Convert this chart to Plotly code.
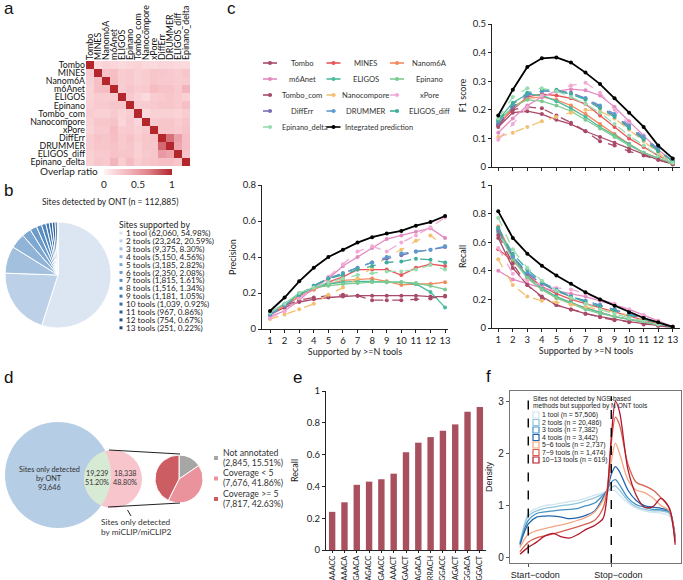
import numpy as np
import plotly.graph_objects as go

W, H = 683, 580
def PX(x): return x / W
def PY(y): return 1 - y / H

FONT = "Lato"
FONT_F = "Liberation Sans"

# ---------------- data ----------------
TOOLS13 = ["Tombo", "MINES", "Nanom6A", "m6Anet", "ELIGOS", "Epinano", "Tombo_com",
           "Nanocompore", "xPore", "DiffErr", "DRUMMER", "ELIGOS_diff", "Epinano_delta"]
OVERLAP = [
    [1.00, .15, .18, .17, .14, .16, .18, .15, .14, .16, .16, .15, .14],
    [.22, 1.00, .28, .30, .22, .24, .20, .22, .26, .25, .24, .22, .26],
    [.20, .30, 1.00, .32, .22, .24, .20, .22, .26, .24, .24, .22, .24],
    [.18, .30, .32, 1.00, .22, .26, .22, .24, .32, .28, .28, .24, .36],
    [.18, .22, .22, .22, 1.00, .24, .18, .14, .22, .24, .26, .24, .20],
    [.20, .24, .24, .26, .26, 1.00, .22, .22, .24, .26, .26, .24, .30],
    [.22, .20, .20, .24, .18, .22, 1.00, .14, .20, .20, .20, .18, .22],
    [.20, .26, .26, .28, .16, .24, .16, 1.00, .24, .26, .26, .22, .26],
    [.18, .24, .24, .32, .22, .24, .20, .24, 1.00, .26, .26, .24, .28],
    [.22, .28, .26, .30, .24, .28, .22, .26, .28, 1.00, .72, .48, .30],
    [.22, .26, .26, .28, .24, .26, .20, .26, .26, .75, 1.00, .44, .30],
    [.20, .24, .24, .28, .26, .26, .20, .24, .26, .52, .46, 1.00, .28],
    [.20, .26, .24, .36, .22, .32, .22, .26, .28, .30, .30, .26, 1.00],
]

SUPPORT_LABELS = ["1 tool", "2 tools", "3 tools", "4 tools", "5 tools", "6 tools", "7 tools",
                  "8 tools", "9 tools", "10 tools", "11 tools", "12 tools", "13 tools"]
SUPPORT_COUNTS = [62060, 23242, 9375, 5150, 3185, 2350, 1815, 1516, 1181, 1039, 967, 754, 251]
SUPPORT_PCT = [54.98, 20.59, 8.30, 4.56, 2.82, 2.08, 1.61, 1.34, 1.05, 0.92, 0.86, 0.67, 0.22]

C_TOOLS = TOOLS13 + ["Integrated prediction"]
N_TOOLS = list(range(1, 14))
F1 = [
    [0.14, 0.19, 0.195, 0.185, 0.165, 0.15, 0.125, 0.105, 0.085, 0.065, 0.045, 0.025, 0.01],   # Tombo
    [0.15, 0.20, 0.245, 0.255, 0.25, 0.24, 0.22, 0.18, 0.14, 0.10, 0.07, 0.04, 0.015],         # MINES
    [0.145, 0.21, 0.24, 0.245, 0.235, 0.215, 0.185, 0.15, 0.115, 0.08, 0.05, 0.03, 0.01],      # Nanom6A
    [0.12, 0.17, 0.215, 0.245, 0.265, 0.272, 0.268, 0.25, 0.21, 0.16, 0.11, 0.06, 0.02],       # m6Anet
    [0.165, 0.225, 0.255, 0.25, 0.23, 0.205, 0.175, 0.14, 0.11, 0.08, 0.05, 0.03, 0.01],       # ELIGOS
    [0.16, 0.21, 0.235, 0.23, 0.215, 0.195, 0.165, 0.135, 0.105, 0.075, 0.05, 0.03, 0.01],     # Epinano
    [0.145, 0.20, 0.21, 0.205, 0.18, 0.155, 0.125, 0.09, 0.075, 0.055, 0.04, 0.025, 0.01],     # Tombo_com
    [0.105, 0.12, 0.14, 0.16, 0.175, 0.19, 0.20, 0.195, 0.17, 0.13, 0.09, 0.05, 0.015],        # Nanocompore
    [0.095, 0.15, 0.21, 0.25, 0.265, 0.285, 0.295, 0.26, 0.20, 0.15, 0.10, 0.06, 0.02],        # xPore
    [0.15, 0.21, 0.25, 0.265, 0.265, 0.26, 0.24, 0.21, 0.18, 0.14, 0.10, 0.06, 0.02],          # DiffErr
    [0.16, 0.22, 0.255, 0.265, 0.265, 0.255, 0.24, 0.215, 0.185, 0.145, 0.105, 0.065, 0.02],   # DRUMMER
    [0.16, 0.22, 0.26, 0.27, 0.27, 0.255, 0.235, 0.205, 0.175, 0.135, 0.095, 0.055, 0.02],     # ELIGOS_diff
    [0.17, 0.245, 0.275, 0.275, 0.265, 0.245, 0.22, 0.19, 0.15, 0.11, 0.075, 0.04, 0.015],     # Epinano_delta
    [0.18, 0.27, 0.35, 0.38, 0.383, 0.365, 0.33, 0.29, 0.24, 0.19, 0.14, 0.075, 0.03],         # Integrated
]
PRECISION = [
    [0.08, 0.12, 0.15, 0.165, 0.175, 0.18, 0.185, 0.185, 0.185, 0.185, 0.185, 0.18, 0.18],
    [0.08, 0.13, 0.18, 0.22, 0.26, 0.29, 0.33, 0.33, 0.33, 0.30, 0.34, 0.36, 0.35],
    [0.08, 0.13, 0.18, 0.22, 0.25, 0.27, 0.275, 0.28, 0.265, 0.245, 0.25, 0.25, 0.26],
    [0.07, 0.10, 0.16, 0.23, 0.28, 0.35, 0.40, 0.45, 0.50, 0.52, 0.54, 0.56, 0.505],
    [0.09, 0.14, 0.19, 0.23, 0.25, 0.26, 0.265, 0.265, 0.26, 0.26, 0.25, 0.205, 0.12],
    [0.09, 0.14, 0.20, 0.23, 0.24, 0.25, 0.255, 0.26, 0.26, 0.26, 0.255, 0.24, 0.22],
    [0.09, 0.13, 0.16, 0.175, 0.185, 0.19, 0.185, 0.16, 0.16, 0.16, 0.165, 0.17, 0.185],
    [0.055, 0.08, 0.11, 0.14, 0.19, 0.23, 0.28, 0.34, 0.40, 0.44, 0.49, 0.52, 0.46],
    [0.06, 0.10, 0.17, 0.23, 0.29, 0.36, 0.43, 0.46, 0.43, 0.48, 0.52, 0.565, 0.62],
    [0.08, 0.13, 0.19, 0.24, 0.28, 0.31, 0.34, 0.37, 0.39, 0.41, 0.43, 0.44, 0.455],
    [0.08, 0.13, 0.19, 0.24, 0.28, 0.31, 0.34, 0.37, 0.40, 0.42, 0.43, 0.44, 0.46],
    [0.09, 0.14, 0.19, 0.24, 0.28, 0.30, 0.33, 0.35, 0.37, 0.375, 0.39, 0.385, 0.37],
    [0.09, 0.14, 0.20, 0.23, 0.26, 0.28, 0.30, 0.31, 0.32, 0.32, 0.33, 0.355, 0.33],
    [0.10, 0.175, 0.265, 0.34, 0.40, 0.44, 0.48, 0.51, 0.53, 0.545, 0.574, 0.594, 0.628],
]
RECALL = [
    [0.63, 0.42, 0.30, 0.22, 0.16, 0.13, 0.10, 0.08, 0.06, 0.045, 0.03, 0.015, 0.005],
    [0.55, 0.47, 0.37, 0.29, 0.24, 0.20, 0.17, 0.14, 0.11, 0.08, 0.055, 0.03, 0.005],
    [0.71, 0.50, 0.35, 0.27, 0.21, 0.17, 0.14, 0.11, 0.08, 0.06, 0.04, 0.02, 0.005],
    [0.40, 0.34, 0.31, 0.28, 0.26, 0.24, 0.22, 0.19, 0.16, 0.13, 0.09, 0.05, 0.01],
    [0.69, 0.50, 0.36, 0.28, 0.22, 0.18, 0.14, 0.11, 0.08, 0.06, 0.04, 0.02, 0.005],
    [0.67, 0.48, 0.35, 0.27, 0.21, 0.17, 0.13, 0.10, 0.08, 0.06, 0.04, 0.02, 0.005],
    [0.65, 0.45, 0.30, 0.21, 0.16, 0.13, 0.10, 0.075, 0.055, 0.04, 0.025, 0.015, 0.005],
    [0.48, 0.30, 0.22, 0.19, 0.18, 0.165, 0.15, 0.13, 0.11, 0.09, 0.06, 0.03, 0.005],
    [0.56, 0.38, 0.33, 0.30, 0.28, 0.27, 0.24, 0.20, 0.17, 0.13, 0.09, 0.05, 0.01],
    [0.68, 0.50, 0.38, 0.31, 0.26, 0.22, 0.19, 0.16, 0.13, 0.10, 0.07, 0.035, 0.005],
    [0.70, 0.50, 0.39, 0.32, 0.27, 0.22, 0.19, 0.16, 0.13, 0.10, 0.07, 0.035, 0.005],
    [0.70, 0.52, 0.41, 0.32, 0.26, 0.22, 0.18, 0.15, 0.12, 0.09, 0.06, 0.03, 0.005],
    [0.77, 0.55, 0.42, 0.33, 0.26, 0.21, 0.17, 0.13, 0.10, 0.07, 0.05, 0.025, 0.005],
    [0.816, 0.63, 0.52, 0.435, 0.367, 0.31, 0.25, 0.20, 0.155, 0.11, 0.07, 0.04, 0.008],
]

VENN_ONT_ONLY = 93646
VENN_SHARED = 19239
VENN_CLIP_ONLY = 18338
VENN_SHARED_PCT = 51.20
VENN_CLIP_PCT = 48.80
COVERAGE_LABELS = ["Not annotated", "Coverage < 5", "Coverage >= 5"]
COVERAGE_COUNTS = [2845, 7676, 7817]
COVERAGE_PCT = [15.51, 41.86, 42.63]

MOTIFS = ["AAACC", "AAACA", "GAACA", "AGACC", "GAACC", "AAACT", "GAACT",
          "AGACA", "RRACH", "GGACC", "AGACT", "GGACA", "GGACT"]
MOTIF_RECALL = [0.24, 0.30, 0.41, 0.43, 0.445, 0.48, 0.615, 0.675, 0.71, 0.75, 0.79, 0.87, 0.90]

META_X = [0.9, 1.0, 1.1, 1.2, 1.3, 1.4, 1.5, 1.6, 1.7, 1.8, 1.9, 1.95, 2.0, 2.05, 2.1,
          2.2, 2.3, 2.4, 2.5, 2.6, 2.7, 2.77]
META_GROUPS = ["1 tool", "2 tools", "3 tools", "4 tools", "5\u22126 tools", "7\u22129 tools", "10\u221213 tools"]
META_N = [57506, 20486, 7382, 3442, 2737, 1474, 619]
META_DENSITY = [
    [0.30, 0.85, 0.95, 1.00, 1.02, 1.05, 1.08, 1.10, 1.15, 1.20, 1.25, 1.28, 1.30, 1.28, 1.20, 1.05, 0.95, 0.90, 0.87, 0.86, 0.80, 0.40],
    [0.28, 0.80, 0.90, 0.95, 0.97, 1.00, 1.02, 1.05, 1.10, 1.15, 1.22, 1.26, 1.35, 1.38, 1.30, 1.10, 0.98, 0.93, 0.90, 0.90, 0.85, 0.40],
    [0.27, 0.72, 0.85, 0.88, 0.90, 0.92, 0.93, 0.95, 1.00, 1.05, 1.20, 1.30, 1.45, 1.50, 1.40, 1.15, 1.02, 0.97, 0.93, 0.92, 0.88, 0.40],
    [0.25, 0.65, 0.78, 0.80, 0.80, 0.78, 0.75, 0.77, 0.82, 0.90, 1.15, 1.30, 1.60, 1.75, 1.65, 1.30, 1.10, 1.00, 0.97, 0.95, 0.90, 0.35],
    [0.20, 0.45, 0.52, 0.56, 0.60, 0.63, 0.67, 0.72, 0.78, 0.88, 1.10, 1.30, 1.85, 2.20, 2.00, 1.50, 1.30, 1.25, 1.15, 1.00, 0.90, 0.35],
    [0.12, 0.30, 0.38, 0.42, 0.46, 0.50, 0.55, 0.60, 0.65, 0.72, 0.95, 1.30, 2.20, 2.70, 2.55, 1.80, 1.45, 1.38, 1.30, 1.15, 0.95, 0.30],
    [0.07, 0.20, 0.30, 0.42, 0.47, 0.40, 0.38, 0.45, 0.55, 0.62, 0.75, 1.20, 2.30, 3.00, 2.80, 1.70, 1.20, 0.97, 0.98, 1.14, 0.95, 0.25],
]

# ---------------- styles ----------------
PIE_BLUES = ['#dbe6f2', '#bcd1e7', '#a3c1de', '#8fb4d8', '#7ea8d2', '#6d9ccb', '#5b8fc4',
             '#4e84bd', '#4278b4', '#376ca9', '#2d5f9c', '#24528d', '#1c467e']
C_COLORS = ['#a84a68', '#e8545a', '#f28a5e', '#e389c0', '#4dbb9e', '#7ccb92', '#a84a68',
            '#f2c073', '#f2aad4', '#7b6fb5', '#5a9bd0', '#3fae9a', '#98dcb0', '#000000']
C_DASH = ['solid', 'solid', 'solid', 'solid', 'solid', 'solid', 'dash',
          'dash', 'dash', 'dash', 'dash', 'dash', 'dash', 'solid']
COV_COLORS = ['#a6a6a6', '#ea939c', '#cc5d62']
BAR_COLOR = '#a8505e'
META_COLORS = ['#d1e5f0', '#92c5de', '#4393c3', '#2166ac', '#f4a582', '#d6604d', '#b2182b']

fig = go.Figure()

# ---------------- a: heatmap ----------------
fig.add_trace(go.Heatmap(
    z=OVERLAP, x=TOOLS13, y=TOOLS13, xaxis='x', yaxis='y', zmin=0, zmax=1,
    colorscale=[[0, '#fff1f2'], [0.3, '#f6bfc5'], [0.65, '#e0838b'], [1, '#b2262c']],
    hoverinfo='skip',
    colorbar=dict(orientation='h', x=PX(138), xanchor='center', y=PY(168.5), yanchor='top',
                  len=68, lenmode='pixels', thickness=6, outlinewidth=0,
                  tickvals=[0, 0.5, 1], ticktext=['0', '0.5', '1'], ticks='',
                  tickfont=dict(size=10, family=FONT, color='#222'), ypad=0, xpad=0)))

# ---------------- b: pie ----------------
fig.add_trace(go.Pie(
    values=SUPPORT_COUNTS, labels=SUPPORT_LABELS, sort=False, direction='clockwise', rotation=0,
    domain=dict(x=[PX(5), PX(111)], y=[PY(328), PY(222)]),
    marker=dict(colors=PIE_BLUES, line=dict(color='white', width=1)),
    textinfo='none', hoverinfo='skip', showlegend=False))

# ---------------- c: line charts ----------------
for metric, xa, ya in [(F1, 'x2', 'y2'), (PRECISION, 'x3', 'y3'), (RECALL, 'x4', 'y4')]:
    for i, name in enumerate(C_TOOLS):
        fig.add_trace(go.Scatter(
            x=N_TOOLS, y=metric[i], mode='lines+markers', xaxis=xa, yaxis=ya, name=name,
            line=dict(color=C_COLORS[i], width=1.8 if i == 13 else 1.3, dash=C_DASH[i]),
            marker=dict(size=4, color=C_COLORS[i]), showlegend=False, hoverinfo='skip'))

# ---------------- d: coverage pie ----------------
fig.add_trace(go.Pie(
    values=COVERAGE_COUNTS, labels=COVERAGE_LABELS, sort=False, direction='clockwise', rotation=0,
    domain=dict(x=[PX(155), PX(203)], y=[PY(503), PY(455)]),
    marker=dict(colors=COV_COLORS, line=dict(color='white', width=1)),
    textinfo='none', hoverinfo='skip', showlegend=False))

# ---------------- e: bars ----------------
fig.add_trace(go.Bar(x=MOTIFS, y=MOTIF_RECALL, xaxis='x5', yaxis='y5',
                     marker=dict(color=BAR_COLOR, line=dict(width=0)), hoverinfo='skip'))

# ---------------- f: density ----------------
for i, g in enumerate(META_GROUPS):
    fig.add_trace(go.Scatter(x=META_X, y=META_DENSITY[i], mode='lines', xaxis='x6', yaxis='y6',
                             line=dict(color=META_COLORS[i], width=1.3, shape='spline', smoothing=0.8),
                             hoverinfo='skip', showlegend=False))

shapes = []
ann = []

def text(x, y, s, size=9, anchor='left', family=FONT, color='#222'):
    ann.append(dict(x=PX(x), y=PY(y), xref='paper', yref='paper', text=s, showarrow=False,
                    xanchor=anchor, yanchor='middle', font=dict(size=size, family=family, color=color),
                    borderpad=0))

# panel letters
for lab, x, y in [('a', 3, 9), ('b', 3, 190), ('c', 226, 9), ('d', 3, 377), ('e', 292, 377), ('f', 485, 376)]:
    text(x, y, lab, size=17, family='Liberation Sans', color='#111')

# a colorbar label
text(99, 171, 'Overlap ratio', size=10, anchor='right')

# b title + legend
text(110, 202, 'Sites detected by ONT (n = {:,})'.format(sum(SUPPORT_COUNTS)), size=8.5, anchor='center')
text(118, 224, 'Sites supported by', size=8.7)
for i, lab in enumerate(SUPPORT_LABELS):
    yy = 233 + i * 7.9
    shapes.append(dict(type='rect', xref='paper', yref='paper', x0=PX(119.5), x1=PX(122.5), y0=PY(yy + 1.5),
                       y1=PY(yy - 1.5), fillcolor=PIE_BLUES[i], line=dict(width=0)))
    text(124.5, yy, '{} ({:,}, {:.2f}%)'.format(lab, SUPPORT_COUNTS[i], SUPPORT_PCT[i]), size=8.2)

# c legend
for i, name in enumerate(C_TOOLS):
    r, c = divmod(i, 3)
    x0 = 263 + c * 63.5
    yy = 63 + r * 16
    shapes.append(dict(type='line', xref='paper', yref='paper', x0=PX(x0), x1=PX(x0 + 14), y0=PY(yy), y1=PY(yy),
                       line=dict(color=C_COLORS[i], width=1.6, dash='dash' if C_DASH[i] == 'dash' else 'solid')))
    shapes.append(dict(type='circle', xref='paper', yref='paper', x0=PX(x0 + 5), x1=PX(x0 + 9),
                       y0=PY(yy + 2), y1=PY(yy - 2), fillcolor=C_COLORS[i], line=dict(width=0)))
    if len(name) > 12:
        text(x0 + 17.5, yy, name, size=7.4, anchor='left', color='#333')
    else:
        text(x0 + 39, yy, name, size=7.6, anchor='center', color='#333')

# d venn
C1 = (58, 475, 53)
C2 = (113, 479, 29)
def circ(c, fill):
    cx, cy, r = c
    return dict(type='circle', xref='paper', yref='paper', x0=PX(cx - r), x1=PX(cx + r),
                y0=PY(cy + r), y1=PY(cy - r), fillcolor=fill, line=dict(width=0), layer='below')
shapes.append(circ(C1, '#b5cde5'))
shapes.append(circ(C2, '#f8c5cd'))
t = np.linspace(0, 2 * np.pi, 240, endpoint=False)
p1 = np.c_[C1[0] + C1[2] * np.cos(t), C1[1] + C1[2] * np.sin(t)]
p2 = np.c_[C2[0] + C2[2] * np.cos(t), C2[1] + C2[2] * np.sin(t)]
p1 = p1[np.hypot(p1[:, 0] - C2[0], p1[:, 1] - C2[1]) <= C2[2]]
p2 = p2[np.hypot(p2[:, 0] - C1[0], p2[:, 1] - C1[1]) <= C1[2]]
pts = np.vstack([p1, p2])
cen = pts.mean(axis=0)
pts = pts[np.argsort(np.arctan2(pts[:, 1] - cen[1], pts[:, 0] - cen[0]))]
path = 'M ' + ' L '.join('{:.5f},{:.5f}'.format(PX(a), PY(b)) for a, b in pts) + ' Z'
shapes.append(dict(type='path', xref='paper', yref='paper', path=path, fillcolor='#d7ead3',
                   line=dict(width=0), layer='below'))
text(49, 469, 'Sites only detected', size=7.3, anchor='center', color='#333')
text(49, 478, 'by ONT', size=7.3, anchor='center', color='#333')
text(49, 487, '{:,}'.format(VENN_ONT_ONLY), size=7.3, anchor='center', color='#333')
text(96.5, 473, '{:,}'.format(VENN_SHARED), size=7.2, anchor='center', color='#333')
text(96.5, 482, '{:.2f}%'.format(VENN_SHARED_PCT), size=7.2, anchor='center', color='#333')
text(125, 473, '{:,}'.format(VENN_CLIP_ONLY), size=7.2, anchor='center', color='#333')
text(125, 482, '{:.2f}%'.format(VENN_CLIP_PCT), size=7.2, anchor='center', color='#333')
for (xa, ya, xb, yb) in [(109, 450, 180, 454), (108, 507, 180, 503), (127.5, 510, 131, 516)]:
    shapes.append(dict(type='line', xref='paper', yref='paper', x0=PX(xa), y0=PY(ya), x1=PX(xb), y1=PY(yb),
                       line=dict(color='#222', width=1)))
text(136, 522, 'Sites only detected', size=8.3, anchor='center', color='#333')
text(136, 532, 'by miCLIP/miCLIP2', size=8.3, anchor='center', color='#333')
for i, lab in enumerate(COVERAGE_LABELS):
    y1 = 452 + i * 20.5
    shapes.append(dict(type='rect', xref='paper', yref='paper', x0=PX(214), x1=PX(218), y0=PY(y1 + 8),
                       y1=PY(y1 + 4), fillcolor=COV_COLORS[i], line=dict(width=0)))
    text(222, y1, lab, size=8.7, color='#333')
    text(222, y1 + 10, '({:,}, {:.2f}%)'.format(COVERAGE_COUNTS[i], COVERAGE_PCT[i]), size=8.7, color='#333')

# f dashed lines & legend
for xv, yb in [(1.0, 0.08), (2.0, -0.1)]:
    shapes.append(dict(type='line', xref='x6', yref='y6', x0=xv, x1=xv, y0=yb, y1=3.1,
                       line=dict(color='black', width=1.4, dash='dash')))
text(532, 399, 'Sites not detected by NGS-based', size=6.6, family=FONT_F)
text(532, 405.5, 'methods but supported by N ONT tools', size=6.6, family=FONT_F)
for i, g in enumerate(META_GROUPS):
    yy = 415 + i * 7.5
    shapes.append(dict(type='rect', xref='paper', yref='paper', x0=PX(533), x1=PX(539), y0=PY(yy + 3),
                       y1=PY(yy - 3), fillcolor='white', line=dict(color=META_COLORS[i], width=1.2)))
    text(541, yy, '{} (n = {:,})'.format(g, META_N[i]), size=6.9, family=FONT_F)

# ---------------- axes ----------------
cax = dict(showline=True, linecolor='#222', linewidth=1, ticks='outside', ticklen=3, tickcolor='#222',
           showgrid=False, zeroline=False, automargin=False,
           tickfont=dict(size=9.5, family=FONT, color='#222'))
ttl = dict(size=9, family=FONT, color='#222')

layout = dict(
    template='none',
    width=W, height=H, margin=dict(l=0, r=0, t=0, b=0, autoexpand=False),
    paper_bgcolor='white', plot_bgcolor='white',
    showlegend=False, bargap=0.48,
    xaxis=dict(domain=[PX(86), PX(190)], anchor='y', side='top', tickangle=-90, ticks='', showgrid=False,
               zeroline=False, tickmode='array', tickvals=TOOLS13, ticktext=TOOLS13, automargin=False,
               tickfont=dict(size=8.8, family=FONT, color='#111')),
    yaxis=dict(domain=[PY(166), PY(61)], anchor='x', autorange='reversed', ticks='', showgrid=False,
               zeroline=False, tickmode='array', tickvals=TOOLS13, ticktext=TOOLS13, automargin=False,
               tickfont=dict(size=8.8, family=FONT, color='#111')),
    xaxis2=dict(cax, domain=[PX(492), PX(680)], anchor='y2', range=[0.57, 13.5], tickvals=N_TOOLS,
                showticklabels=False),
    yaxis2=dict(cax, domain=[PY(167), PY(24)], anchor='x2', range=[0, 0.5], tickvals=[0, 0.1, 0.2, 0.3, 0.4, 0.5],
                title=dict(text='F1 score', font=ttl, standoff=4)),
    xaxis3=dict(cax, domain=[PX(262), PX(448)], anchor='y3', range=[0.45, 13.2], tickvals=N_TOOLS,
                title=dict(text='Supported by >=N tools', font=ttl, standoff=2)),
    yaxis3=dict(cax, domain=[PY(329), PY(185)], anchor='x3', range=[0, 0.8], tickvals=[0, 0.2, 0.4, 0.6, 0.8],
                title=dict(text='Precision', font=ttl, standoff=4)),
    xaxis4=dict(cax, domain=[PX(492), PX(680)], anchor='y4', range=[0.57, 13.5], tickvals=N_TOOLS,
                title=dict(text='Supported by >=N tools', font=ttl, standoff=2)),
    yaxis4=dict(cax, domain=[PY(328), PY(185)], anchor='x4', range=[0, 1], tickvals=[0, 0.2, 0.4, 0.6, 0.8, 1],
                title=dict(text='Recall', font=ttl, standoff=4)),
    xaxis5=dict(cax, domain=[PX(326), PX(486)], anchor='y5', tickangle=-90, ticklen=2,
                tickfont=dict(size=7.3, family=FONT, color='#222')),
    yaxis5=dict(cax, domain=[PY(550), PY(391)], anchor='x5', range=[0, 1], tickvals=[0, 0.2, 0.4, 0.6, 0.8, 1],
                title=dict(text='Recall', font=ttl, standoff=6)),
    xaxis6=dict(domain=[PX(510), PX(681)], anchor='y6', range=[0.78, 2.84], showline=True, mirror=True,
                linecolor='#777', linewidth=1.3, showgrid=False, zeroline=False, ticks='outside', ticklen=3,
                tickcolor='#555', tickvals=[1, 2], ticktext=['Start\u2212codon', 'Stop\u2212codon'],
                automargin=False, ticklabelshift=7, tickfont=dict(size=9, family=FONT_F, color='#222')),
    yaxis6=dict(domain=[PY(563), PY(391)], anchor='x6', range=[-0.1, 3.2], showline=True, mirror=True,
                linecolor='#777', linewidth=1.3, showgrid=False, zeroline=False, ticks='outside', ticklen=3,
                tickcolor='#555', tickvals=[0, 1, 2, 3], automargin=False,
                tickfont=dict(size=10, family=FONT_F, color='#222'),
                title=dict(text='Density', font=dict(size=9, family=FONT_F, color='#222'), standoff=4)),
    shapes=shapes, annotations=ann,
)
fig.update_layout(layout)
fig.write_html('out.html', config={'displayModeBar': False, 'staticPlot': True},
               post_script="document.body.style.margin='0px';document.body.style.overflow='hidden';")
